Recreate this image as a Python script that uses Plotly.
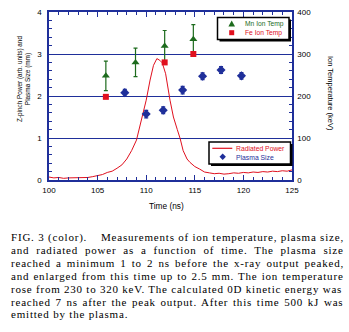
import plotly.graph_objects as go

# ---- data ----
power_t = [100, 100.5, 101, 101.5, 102, 102.5, 103, 103.5, 104, 104.5, 105, 105.5, 106, 106.5,
           107, 107.5, 108, 108.5, 109, 109.5, 110, 110.4, 110.75, 111.1, 111.4, 111.65, 112.0,
           112.45, 112.8, 113.2, 113.5, 113.8, 114.2, 114.5, 115, 115.5, 116, 116.5, 117, 117.5,
           118, 118.5, 119, 119.5, 120, 120.5, 121, 121.5, 122, 122.5, 123, 123.5, 124, 124.5, 125]
power_v = [0.07, 0.05, 0.06, 0.04, 0.05, 0.05, 0.06, 0.05, 0.06, 0.08, 0.11, 0.13, 0.18, 0.21,
           0.28, 0.36, 0.50, 0.70, 0.95, 1.40, 1.90, 2.38, 2.73, 2.89, 2.85, 2.79, 2.53,
           1.90, 1.50, 1.20, 0.98, 0.70, 0.50, 0.42, 0.32, 0.26, 0.19, 0.17, 0.15, 0.16,
           0.14, 0.15, 0.17, 0.16, 0.18, 0.17, 0.19, 0.18, 0.20, 0.19, 0.21, 0.20, 0.22, 0.21, 0.24]

size_t = [107.8, 110.0, 111.75, 113.75, 115.8, 117.7, 119.8]
size_v = [2.08, 1.57, 1.66, 2.14, 2.47, 2.62, 2.48]
size_err = [0.08, 0.09, 0.08, 0.09, 0.08, 0.08, 0.08]

mn_t = [105.85, 108.9, 111.9, 114.85]
mn_v = [248, 280, 319, 335]
mn_err = [35, 34, 37, 35]

fe_t = [105.85, 111.9, 114.85]
fe_v = [198, 280, 300]

legend_top = ["Mn Ion Temp", "Fe Ion Temp"]
legend_bottom = ["Radiated Power", "Plasma Size"]

caption_head = "FIG. 3 (color)."
caption_lines = [
    "Measurements of ion temperature, plasma size,",
    "and radiated power as a function of time. The plasma size",
    "reached a minimum 1 to 2 ns before the x-ray output peaked,",
    "and enlarged from this time up to 2.5 mm. The ion temperature",
    "rose from 230 to 320 keV. The calculated 0D kinetic energy was",
    "reached 7 ns after the peak output. After this time 500 kJ was",
    "emitted by the plasma.",
]

BLUE = "#1f2f9a"
GREEN = "#1d6b1d"
RED = "#e0101e"
FONT = "Liberation Sans"
SERIF = "Liberation Serif"

# Times-Roman advance widths (1/1000 em), Liberation Serif is metric-compatible
TW = {' ': 250, '.': 250, ',': 250, '(': 333, ')': 333, '-': 333, ':': 278}
TW.update({d: 500 for d in "0123456789"})
TW.update(dict(zip("ABCDEFGHIJKLMNOPQRSTUVWXYZ",
                   [722, 667, 667, 722, 611, 556, 722, 722, 333, 389, 722, 611, 889, 722, 722, 556,
                    722, 667, 556, 611, 722, 722, 944, 722, 722, 611])))
TW.update(dict(zip("abcdefghijklmnopqrstuvwxyz",
                   [444, 500, 444, 500, 444, 333, 500, 500, 278, 278, 500, 278, 778, 500, 500, 500,
                    500, 333, 389, 278, 500, 500, 722, 500, 500, 444])))

CS = 11          # caption font size
LS = 0.8         # letter spacing (px)


def twidth(s, size):
    return sum(TW.get(c, 500) for c in s) / 1000 * size + LS * len(s)


fig = go.Figure()
fig.add_trace(go.Scatter(x=power_t, y=power_v, mode="lines", line=dict(color=RED, width=1),
                         name=legend_bottom[0], showlegend=False))
fig.add_trace(go.Scatter(x=size_t, y=size_v, mode="markers",
                         marker=dict(symbol="diamond", size=7, color=BLUE),
                         error_y=dict(type="data", array=size_err, color=BLUE, thickness=1.2, width=2),
                         name=legend_bottom[1], showlegend=False))
fig.add_trace(go.Scatter(x=mn_t, y=mn_v, mode="markers", yaxis="y2",
                         marker=dict(symbol="triangle-up", size=7, color=GREEN),
                         error_y=dict(type="data", array=mn_err, color=GREEN, thickness=1.2, width=2),
                         name=legend_top[0], showlegend=False))
fig.add_trace(go.Scatter(x=fe_t, y=fe_v, mode="markers", yaxis="y2",
                         marker=dict(symbol="square", size=6, color=RED),
                         name=legend_top[1], showlegend=False))

W, H = 349, 332
L, R, T, B = 49, 57, 12, 152
ph = H - T - B
pw = W - L - R


def py(p):
    return (H - B - p) / ph


def px(p):
    return (p - L) / pw


ann = []
CL, CR = 10, 343
Y0, DY = 237.5, 12.8
ann.append(dict(text=f'<span style="letter-spacing:{LS}px">{caption_head}</span>',
                xref="paper", yref="paper", x=px(CL), y=py(Y0),
                xanchor="left", yanchor="middle", showarrow=False, borderpad=0,
                font=dict(family=SERIF, size=CS, color="black")))
for i, line in enumerate(caption_lines):
    left = 100 if i == 0 else CL
    nsp = line.count(" ")
    if i < len(caption_lines) - 1 and nsp:
        extra = (CR - left - twidth(line, CS)) / nsp
        text = f'<span style="letter-spacing:{LS}px;word-spacing:{extra:.2f}px">{line}</span>'
    else:
        text = f'<span style="letter-spacing:{LS}px">{line}</span>'
    ann.append(dict(text=text, xref="paper", yref="paper", x=px(left), y=py(Y0 + DY * i),
                    xanchor="left", yanchor="middle", showarrow=False, borderpad=0,
                    font=dict(family=SERIF, size=CS, color="black")))
ann.append(dict(text="Z-pinch Power (arb. units) and<br>Plasma Size (mm)", xref="paper", yref="paper",
                x=px(24), y=py(79), textangle=-90, showarrow=False, xanchor="center", yanchor="middle",
                font=dict(family=FONT, size=6.4, color="black")))
ann.append(dict(text="Ion Temperature (keV)", xref="paper", yref="paper",
                x=px(330), y=py(93), textangle=90, showarrow=False, xanchor="center", yanchor="middle",
                font=dict(family=FONT, size=7.5, color="black")))
ann.append(dict(text="Time (ns)", xref="paper", yref="paper",
                x=px(166), y=py(206), showarrow=False, xanchor="center", yanchor="middle",
                font=dict(family=FONT, size=8.3, color="black")))

# legend texts
for txt, col, yy in [(legend_top[0], GREEN, 24), (legend_top[1], RED, 32.5)]:
    ann.append(dict(text=txt, xref="paper", yref="paper", x=px(243.5), y=py(yy), xanchor="left",
                    yanchor="middle", showarrow=False, borderpad=0,
                    font=dict(family=FONT, size=6.7, color=col)))
for txt, col, yy in [(legend_bottom[0], RED, 148.5), (legend_bottom[1], BLUE, 157)]:
    ann.append(dict(text=txt, xref="paper", yref="paper", x=px(234.5), y=py(yy), xanchor="left",
                    yanchor="middle", showarrow=False, borderpad=0,
                    font=dict(family=FONT, size=6.8, color=col)))


def rect(x0, y0, x1, y1, fill, lw=0, lc="black"):
    return dict(type="rect", xref="paper", yref="paper", x0=px(x0), x1=px(x1), y0=py(y1), y1=py(y0),
                fillcolor=fill, line=dict(width=lw, color=lc), layer="above")


def path(pts, col):
    d = "M " + " L ".join(f"{px(a):.5f},{py(b):.5f}" for a, b in pts) + " Z"
    return dict(type="path", xref="paper", yref="paper", path=d, fillcolor=col,
                line=dict(width=0), layer="above")


shapes = [
    rect(219.5, 19.5, 291, 41.5, "black"),
    rect(217.5, 17.5, 289, 39.5, "white", 1.5),
    path([(231.7, 20.5), (235, 26.5), (228.4, 26.5)], GREEN),
    rect(229.2, 30.2, 234.2, 35.2, RED),
    rect(211, 144, 292.5, 166, "black"),
    rect(209, 142, 290.5, 164, "white", 1.5),
    dict(type="line", xref="paper", yref="paper", x0=px(212.3), x1=px(232.3), y0=py(148.3),
         y1=py(148.3), line=dict(color=RED, width=1.2), layer="above"),
    path([(222.7, 153.5), (225.9, 156.7), (222.7, 159.9), (219.5, 156.7)], BLUE),
]

axis_common = dict(showline=True, linecolor=BLUE, linewidth=1.5, ticks="inside",
                   tickcolor=BLUE, tickfont=dict(family=FONT, size=8, color="black"),
                   zeroline=False, automargin=False)

fig.update_layout(
    width=W, height=H, margin=dict(l=L, r=R, t=T, b=B),
    paper_bgcolor="white", plot_bgcolor="white", showlegend=False,
    xaxis=dict(range=[100, 125], dtick=5, ticklen=5, tickwidth=1.2, showgrid=False,
               minor=dict(dtick=1, ticks="inside", ticklen=3, tickcolor=BLUE),
               mirror="ticks", ticklabelstandoff=2, **axis_common),
    yaxis=dict(range=[0, 4], dtick=1, ticklen=5, tickwidth=1.2, showgrid=True, gridcolor=BLUE,
               gridwidth=1.2, minor=dict(dtick=0.2, ticks="inside", ticklen=3, tickcolor=BLUE),
               mirror=False, ticklabelstandoff=4, **axis_common),
    yaxis2=dict(range=[0, 400], dtick=100, ticklen=5, tickwidth=1.2, overlaying="y", side="right",
                anchor="x", showgrid=False, ticklabelstandoff=2,
                minor=dict(dtick=20, ticks="inside", ticklen=3, tickcolor=BLUE),
                mirror=False, **axis_common),
    annotations=ann, shapes=shapes,
)
fig.write_html("out.html")
